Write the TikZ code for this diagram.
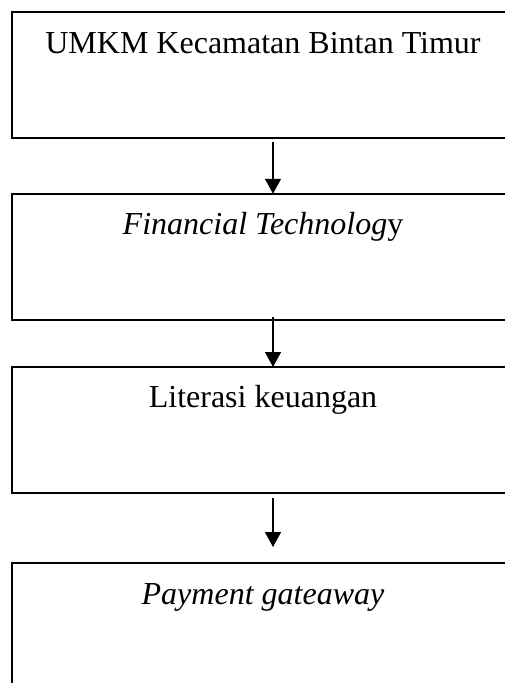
\documentclass[tikz,border=0pt]{standalone}
\usepackage{fontspec}
\setmainfont{Liberation Serif}
\usetikzlibrary{arrows.meta,calc}
\tikzset{
  box/.style={draw=black, line width=1.6pt, minimum width=502pt, minimum height=126pt, inner sep=0pt, outer sep=0pt},
  lbl/.style={anchor=base, inner sep=0pt, font=\fontsize{32}{38}\selectfont},
  arr/.style={draw=black, line width=1.4pt, -{Triangle[width=16pt,length=15pt]}}
}
\begin{document}
\begin{tikzpicture}[x=1pt,y=-1pt]
\useasboundingbox (0,0) rectangle (505,683);
\clip (0,0) rectangle (505,683);
\fill[white] (0,0) rectangle (505,683);
\node[box] (b1) at (263,75) {};
\node[box] (b2) at (263,256.75) {};
\node[box] (b3) at (263,430) {};
\node[box] (b4) at (263,626) {};
\node[lbl] (t1) at ($(b1.north)+(0,41)$) {UMKM Kecamatan Bintan Timur};
\node[lbl] (t2) at ($(b2.north)+(0,41)$) {\textit{Financial Technolog}y};
\node[lbl] (t3) at ($(b3.north)+(0,40)$) {Literasi keuangan};
\node[lbl] (t4) at ($(b4.north)+(0,41)$) {\textit{Payment gateaway}};
\draw[arr] ($(b1.south)+(10,4)$) -- ($(b2.north)+(10,0)$);
\draw[arr] ($(b2.south)+(10,-3)$) -- ($(b3.north)+(10,0)$);
\draw[arr] ($(b3.south)+(10,5)$) -- ($(b4.north)+(10,-16)$);
\end{tikzpicture}
\end{document}
